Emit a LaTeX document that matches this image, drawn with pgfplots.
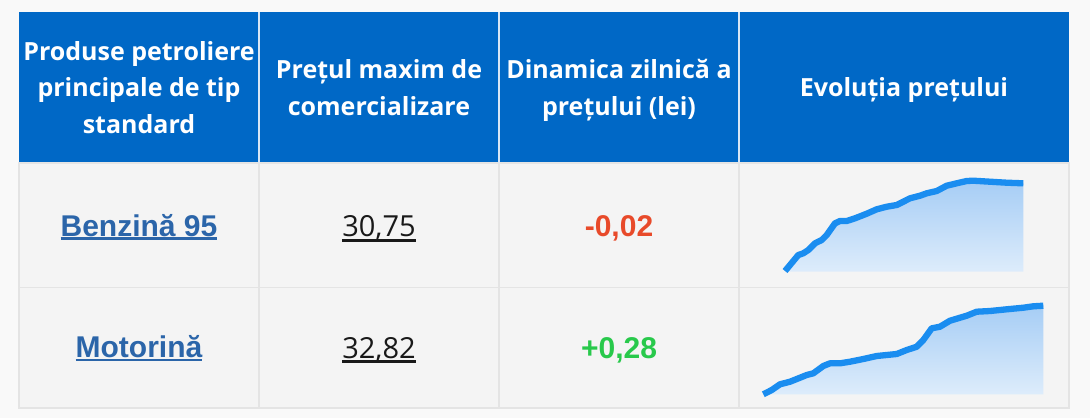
\documentclass[border=0pt]{standalone}
\usepackage{pgfplots}
\pgfplotsset{compat=1.18}
\usepackage{pgfplotstable}
\usepackage{fontspec}
\setmainfont{Open Sans}
\newfontfamily\arial{Liberation Sans}
\definecolor{bgout}{HTML}{F9F9F9}
\definecolor{cell}{HTML}{F4F4F4}
\definecolor{gridc}{HTML}{E4E4E4}
\definecolor{hdr}{HTML}{0068C6}
\definecolor{hdrsep}{HTML}{D8E6F5}
\definecolor{link}{HTML}{2B65A9}
\definecolor{neg}{HTML}{E84A2A}
\definecolor{pos}{HTML}{28C94B}
\definecolor{spark}{HTML}{1A8DF0}
\definecolor{sparktop}{HTML}{A6CDF5}
\definecolor{sparkbot}{HTML}{DDECFB}
\newcommand\ulA[1]{\setbox0\hbox{#1}\rlap{\rule[-4pt]{\wd0}{2.6pt}}\box0}
\newcommand\ulB[1]{\setbox0\hbox{#1}\rlap{\rule[-5pt]{\wd0}{3pt}}\box0}
% sparkline data: x position, price level (picture units, top = small)
\pgfplotstableread{
x y
785.0 271.0
790.0 265.0
798.3 255.0
803.3 253.3
808.3 250.0
815.0 243.3
821.7 240.0
826.7 235.0
835.0 223.3
840.0 221.0
846.7 221.0
855.0 218.3
866.7 213.7
876.7 209.3
886.7 206.7
896.7 205.0
903.3 201.7
910.0 198.3
920.0 195.7
926.7 193.3
936.7 191.0
946.7 185.7
956.7 183.3
966.7 181.0
973.3 180.7
990.0 181.7
1006.7 182.7
1023.3 183.3
}\sparkA
\pgfplotstableread{
x y
763.3 394.3
771.7 390.0
780.0 384.3
790.0 381.7
800.0 377.7
806.7 375.0
813.3 373.3
823.3 366.0
830.0 363.3
840.0 363.3
850.0 361.7
863.3 359.0
876.7 356.0
886.7 355.0
896.7 354.0
906.7 350.0
916.7 346.7
923.3 340.0
931.7 328.3
940.0 326.7
950.0 320.7
960.0 317.7
966.7 315.7
976.7 311.7
990.0 311.0
1006.7 309.3
1023.3 307.7
1033.3 306.3
1043.3 305.7
}\sparkB
\begin{document}
\begin{tikzpicture}[x=1pt,y=-1pt]
\fill[bgout] (0,0) rectangle (1090,418);
\fill[cell] (19,163) rectangle (1069,408);
\fill[hdr] (19,12) rectangle (1069,163);
\draw[gridc,line width=1.5pt] (19,163) rectangle (1069,408);
\draw[gridc,line width=1.5pt] (19,287.5) -- (1069,287.5);
\foreach \xx in {259,499,739} {
  \draw[gridc,line width=1.5pt] (\xx,163) -- (\xx,408);
  \draw[hdrsep,line width=1.2pt] (\xx,12) -- (\xx,163);
}
% header text
\begin{scope}[every node/.style={anchor=base,text=white,font=\fontsize{25}{29}\selectfont\bfseries,inner sep=0pt}]
\node at (139,60) {Produse petroliere};
\node at (139,96.7) {principale de tip};
\node at (139,133.3) {standard};
\node at (379,78.3) {Prețul maxim de};
\node at (379,115) {comercializare};
\node at (619,78.3) {Dinamica zilnică a};
\node at (619,115) {prețului (lei)};
\node at (904,96.7) {Evoluția prețului};
\end{scope}
% body text
\node[anchor=base,inner sep=0pt,text=link,font=\arial\bfseries\fontsize{30}{34}\selectfont] at (139,236) {\ulA{Benzină 95}};
\node[anchor=base,inner sep=0pt,text=link,font=\arial\bfseries\fontsize{30}{34}\selectfont] at (139,357.3) {\ulA{Motorină}};
\node[anchor=base,inner sep=0pt,text=black!90,font=\fontsize{29}{34}\selectfont] at (379,236.7) {\ulB{30,75}};
\node[anchor=base,inner sep=0pt,text=black!90,font=\fontsize{29}{34}\selectfont] at (379,358) {\ulB{32,82}};
\node[anchor=base,inner sep=0pt,text=neg,font=\arial\bfseries\fontsize{30}{34}\selectfont] at (619,236.7) {-0,02};
\node[anchor=base,inner sep=0pt,text=pos,font=\arial\bfseries\fontsize{30}{34}\selectfont] at (619,358) {+0,28};
% sparklines
\begin{axis}[at={(0,0)},anchor=north west,width=1090pt,height=418pt,scale only axis,
  xmin=0,xmax=1090,ymin=0,ymax=418,y dir=reverse,axis lines=none,clip=false]
\addplot[draw=none,top color=sparktop,bottom color=sparkbot] table[x=x,y=y] {\sparkA}
  -- (axis cs:1023.3,271.7) -- (axis cs:785,271.7) -- cycle;
\addplot[spark,line width=6.3pt,line join=round,line cap=butt] table[x=x,y=y] {\sparkA};
\addplot[draw=none,top color=sparktop,bottom color=sparkbot] table[x=x,y=y] {\sparkB}
  -- (axis cs:1043.3,394.3) -- (axis cs:763.3,394.3) -- cycle;
\addplot[spark,line width=6.3pt,line join=round,line cap=butt] table[x=x,y=y] {\sparkB};
\end{axis}
\end{tikzpicture}
\end{document}
